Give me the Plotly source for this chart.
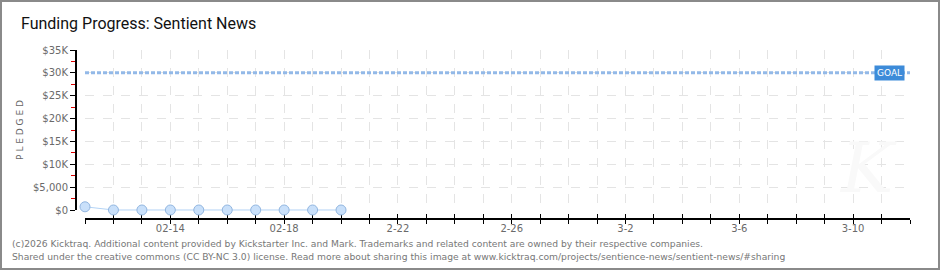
import plotly.graph_objects as go

# ---- data ----
dates = ["2026-02-11", "2026-02-12", "2026-02-13", "2026-02-14", "2026-02-15",
         "2026-02-16", "2026-02-17", "2026-02-18", "2026-02-19", "2026-02-20"]
pledged = [700, 0, 0, 0, 0, 0, 0, 0, 0, 0]
goal_value = 30000
x_start, x_end = "2026-02-11", "2026-03-12"
x_tickvals = ["2026-02-14", "2026-02-18", "2026-02-22", "2026-02-26",
              "2026-03-02", "2026-03-06", "2026-03-10"]
x_ticktext = ["02-14", "02-18", "2-22", "2-26", "3-2", "3-6", "3-10"]
y_tickvals = [0, 5000, 10000, 15000, 20000, 25000, 30000, 35000]
y_ticktext = ["$0", "$5,000", "$10K", "$15K", "$20K", "$25K", "$30K", "$35K"]

W, H = 940, 270
ML, MR, MT, MB = 76, 30, 50, 51
PW, PH = W - ML - MR, H - MT - MB


def px(x):
    return (x - ML) / PW


def py(y):
    return (H - MB - y) / PH


fig = go.Figure()

# invisible trace on the decoration subplot (labels / grid)
fig.add_trace(go.Scatter(
    x=[x_start, x_end], y=[goal_value, goal_value], xaxis="x", yaxis="y",
    mode="lines", line=dict(width=0), hoverinfo="skip", showlegend=False,
    opacity=0))

# goal line
fig.add_trace(go.Scatter(
    x=[x_start, x_end], y=[goal_value, goal_value], xaxis="x2", yaxis="y2",
    mode="lines", line=dict(color="#93b9e8", width=3, dash="4px,2px"),
    hoverinfo="skip", showlegend=False))

# pledged series
fig.add_trace(go.Scatter(
    x=dates, y=pledged, xaxis="x2", yaxis="y2", mode="lines+markers",
    cliponaxis=False,
    line=dict(color="#b3d3f5", width=1),
    marker=dict(size=10, color="#c9e0fa", line=dict(color="#92b6e0", width=1)),
    showlegend=False))

grid = "#e4e4e4"
tickfont = dict(family="DejaVu Sans", size=10, color="#6a6a6a")
dom = [px(85), 1]

fig.update_layout(
    width=W, height=H,
    margin=dict(l=ML, r=MR, t=MT, b=MB),
    paper_bgcolor="white", plot_bgcolor="rgba(0,0,0,0)",
    # decoration axes
    xaxis=dict(
        type="date", domain=dom, range=[x_start, x_end],
        anchor="free", position=0,
        tickvals=x_tickvals, ticktext=x_ticktext, tickfont=tickfont,
        showline=True, linecolor="black", linewidth=2,
        ticks="inside", ticklen=4, tickcolor="black", tickwidth=1,
        showgrid=True, gridcolor=grid, griddash="dash", gridwidth=1,
        minor=dict(dtick=86400000, tick0=x_start, ticks="inside", ticklen=4,
                   tickcolor="black", showgrid=True, gridcolor=grid,
                   griddash="dash"),
        zeroline=False, fixedrange=True,
    ),
    yaxis=dict(
        range=[0, 35000], domain=[py(210), py(50)], anchor="free", position=0,
        tickvals=y_tickvals, ticktext=y_ticktext, tickfont=tickfont,
        showline=True, linecolor="black", linewidth=2,
        ticks="outside", ticklen=5, tickcolor="black",
        showgrid=True, gridcolor=grid, griddash="dash",
        minor=dict(dtick=2500, tick0=0, ticks="outside", ticklen=4,
                   tickcolor="#dd0000", showgrid=False),
        zeroline=False, fixedrange=True,
        title=dict(text="P L E D G E D", font=dict(family="DejaVu Sans", size=9, color="#666666"),
                   standoff=7),
    ),
    # data axes
    xaxis2=dict(
        type="date", domain=dom, range=[x_start, x_end], anchor="y2",
        side="bottom", tick0=x_start, dtick=86400000, showticklabels=False,
        ticks="outside", ticklen=4, tickcolor="black", tickwidth=1,
        showline=False, showgrid=False, zeroline=False, fixedrange=True,
    ),
    yaxis2=dict(
        range=[-1970, 35000], domain=[0, 1], anchor="x2",
        showticklabels=False, ticks="", showline=False, showgrid=False,
        zeroline=False, fixedrange=True,
    ),
)

annotations = [
    dict(text="Funding Progress: Sentient News", x=px(19), y=py(23), xanchor="left",
         yanchor="middle", showarrow=False,
         font=dict(family="Roboto", size=16, color="#111111")),
    dict(text="GOAL", x=x_end, y=goal_value, xref="x2", yref="y2", xanchor="right",
         yanchor="middle", xshift=-5, showarrow=False, bgcolor="#3d8bd9",
         borderpad=2, font=dict(family="DejaVu Sans", size=9, color="white")),
    dict(text="(c)2026 Kicktraq. Additional content provided by Kickstarter Inc. and Mark. "
              "Trademarks and related content are owned by their respective companies.",
         x=px(10), y=py(243), xanchor="left", yanchor="middle", showarrow=False,
         font=dict(family="DejaVu Sans", size=9.2, color="#777777")),
    dict(text="Shared under the creative commons (CC BY-NC 3.0) license. Read more about sharing "
              "this image at www.kicktraq.com/projects/sentience-news/sentient-news/#sharing",
         x=px(10), y=py(256), xanchor="left", yanchor="middle", showarrow=False,
         font=dict(family="DejaVu Sans", size=9.2, color="#777777")),
    dict(text="<i>K</i>", x=px(868), y=py(168), xanchor="center", yanchor="middle",
         showarrow=False, font=dict(family="DejaVu Serif", size=70, color="#f9f9f9")),
]
for a in annotations:
    a.setdefault("xref", "paper")
    a.setdefault("yref", "paper")
fig.update_layout(annotations=annotations)

fig.add_shape(type="rect", xref="paper", yref="paper",
              x0=px(1), x1=px(939), y0=py(1), y1=py(269),
              line=dict(color="#8a8a8a", width=2), fillcolor="rgba(0,0,0,0)",
              layer="above")

fig.write_html("out.html")
